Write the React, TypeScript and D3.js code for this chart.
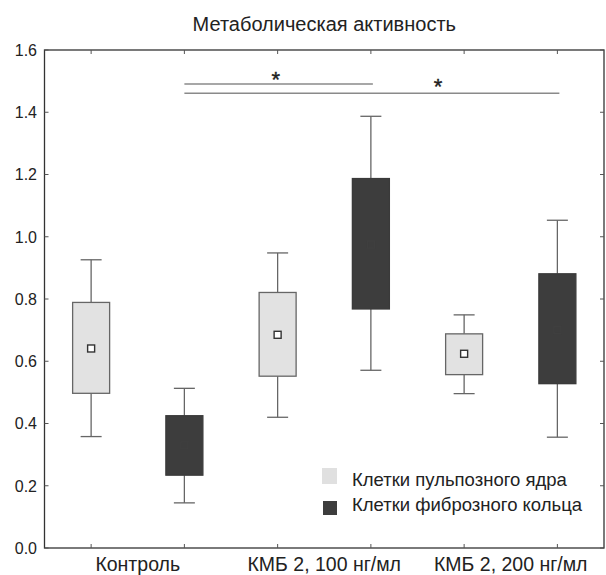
import React from "react";
import * as d3 from "d3";

const title = "Метаболическая активность";
const groups = ["Контроль", "КМБ 2, 100 нг/мл", "КМБ 2, 200 нг/мл"];
const seriesNames = ["Клетки пульпозного ядра", "Клетки фиброзного кольца"];
const yTicks = [0, 0.2, 0.4, 0.6, 0.8, 1.0, 1.2, 1.4, 1.6];

// per group: [whiskerLow, boxLow, mean, boxHigh, whiskerHigh]
const pulposus = [
  [0.358, 0.497, 0.641, 0.789, 0.926],
  [0.42, 0.552, 0.685, 0.821, 0.948],
  [0.496, 0.557, 0.624, 0.688, 0.749],
];
const fibrosus = [
  [0.145, 0.234, 0.33, 0.425, 0.513],
  [0.571, 0.768, 0.975, 1.187, 1.387],
  [0.356, 0.528, 0.7, 0.881, 1.053],
];

// significance: from slot, to slot, level, star position (slot units)
const sigFrom = [1, 1];
const sigTo = [3, 5];
const sigLevel = [1.491, 1.461];
const sigStarX = [1.98, 3.72];
const sigStarLevel = [1.535, 1.512];

const W = 606;
const H = 575;
const left = 44.5;
const right = 604;
const top = 50;
const bottom = 548;

export default function App() {
  const x = d3.scaleLinear().domain([-0.5, 5.5]).range([left, right]);
  const y = d3.scaleLinear().domain([0, 1.6]).range([bottom, top]);
  const boxW = 37;
  const capW = 21;
  const font = "'Liberation Sans', Arial, sans-serif";

  const boxes: any[] = [];
  groups.forEach((g, gi) => {
    boxes.push({ slot: gi * 2, v: pulposus[gi], dark: false });
    boxes.push({ slot: gi * 2 + 1, v: fibrosus[gi], dark: true });
  });

  const slots = d3.range(6);

  return (
    <svg
      width={W}
      height={H}
      style={{ position: "absolute", left: 0, top: 0, background: "#fff" }}
      fontFamily={font}
    >
      <rect x={0} y={0} width={W} height={H} fill="#fff" />
      <text x={(left + right) / 2} y={31} textAnchor="middle" fontSize={20} fill="#222">
        {title}
      </text>

      {/* frame */}
      <rect x={left} y={top} width={right - left} height={bottom - top} fill="none" stroke="#333" strokeWidth={1.3} />

      {/* y ticks */}
      {yTicks.map((t) => (
        <g key={t}>
          <line x1={left} x2={left + 4} y1={y(t)} y2={y(t)} stroke="#555" strokeWidth={1} />
          <line x1={right - 4} x2={right} y1={y(t)} y2={y(t)} stroke="#555" strokeWidth={1} />
          <text x={37} y={y(t)} dy="0.36em" textAnchor="end" fontSize={16} fill="#222">
            {d3.format(".1f")(t)}
          </text>
        </g>
      ))}

      {/* x ticks */}
      {slots.map((s) => (
        <g key={s}>
          <line x1={x(s)} x2={x(s)} y1={top} y2={top + 4} stroke="#555" strokeWidth={1} />
          <line x1={x(s)} x2={x(s)} y1={bottom - 4} y2={bottom} stroke="#555" strokeWidth={1} />
        </g>
      ))}

      {groups.map((g, gi) => (
        <text key={g} x={x(gi * 2 + 0.5)} y={571} textAnchor="middle" fontSize={19.5} fill="#222">
          {g}
        </text>
      ))}

      {/* significance */}
      {sigFrom.map((f, i) => (
        <g key={i}>
          <line x1={x(f)} x2={x(sigTo[i]) + 2} y1={y(sigLevel[i])} y2={y(sigLevel[i])} stroke="#8a8a8a" strokeWidth={1.6} />
          <text x={x(sigStarX[i])} y={y(sigStarLevel[i])} dy="0.75em" textAnchor="middle" fontSize={22} fill="#222" stroke="#222" strokeWidth={0.4}>
            *
          </text>
        </g>
      ))}

      {/* boxes */}
      {boxes.map((b, i) => {
        const cx = x(b.slot);
        const [wl, bl, m, bh, wh] = b.v;
        const stroke = b.dark ? "#3a3a3a" : "#666";
        const fill = b.dark ? "#3d3d3d" : "#e2e2e2";
        return (
          <g key={i}>
            <line x1={cx} x2={cx} y1={y(wh)} y2={y(bh)} stroke="#666" strokeWidth={1.3} />
            <line x1={cx} x2={cx} y1={y(bl)} y2={y(wl)} stroke="#666" strokeWidth={1.3} />
            <line x1={cx - capW / 2} x2={cx + capW / 2} y1={y(wh)} y2={y(wh)} stroke="#666" strokeWidth={1.3} />
            <line x1={cx - capW / 2} x2={cx + capW / 2} y1={y(wl)} y2={y(wl)} stroke="#666" strokeWidth={1.3} />
            <rect x={cx - boxW / 2} y={y(bh)} width={boxW} height={y(bl) - y(bh)} fill={fill} stroke={stroke} strokeWidth={1.3} />
            <rect
              x={cx - 3.5}
              y={y(m) - 3.5}
              width={7}
              height={7}
              fill={b.dark ? "#3d3d3d" : "#fff"}
              stroke={b.dark ? "#3f3f3f" : "#333"}
              strokeWidth={1.4}
            />
          </g>
        );
      })}

      {/* legend */}
      <rect x={322} y={468} width={15} height={16} fill="#e0e0e0" />
      <rect x={323} y={501} width={14} height={14} fill="#3d3d3d" />
      <text x={352} y={486} fontSize={18.5} fill="#222">{seriesNames[0]}</text>
      <text x={352} y={511} fontSize={18.5} fill="#222">{seriesNames[1]}</text>
    </svg>
  );
}
